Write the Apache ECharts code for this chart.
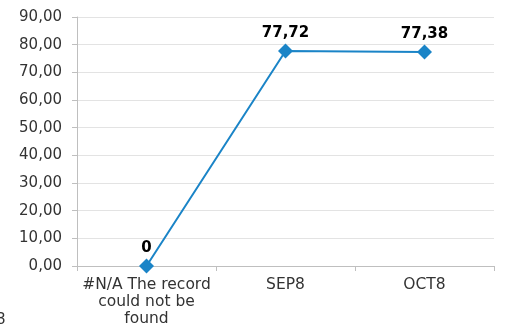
<!DOCTYPE html>
<html>
<head>
<meta charset="utf-8">
<script src="https://cdn.jsdelivr.net/npm/echarts@6/dist/echarts.min.js"></script>
<style>
  html, body { margin: 0; padding: 0; background: #fff; }
  #chart { width: 506px; height: 331px; }
</style>
</head>
<body>
<div id="chart"></div>
<script>
// Monthly values per record
var categories = ['#N/A The record\ncould not be\nfound', 'SEP8', 'OCT8'];
var values = [0, 77.72, 77.38];
var yTicks = { min: 0, max: 90, interval: 10 };

var FONT = 'DejaVu Sans';

function fmt(v) {
  return v.toFixed(2).replace('.', ',');
}

var chart = echarts.init(document.getElementById('chart'));
chart.setOption({
  animation: false,
  backgroundColor: '#ffffff',
  textStyle: { fontFamily: FONT },
  grid: { left: 77, right: 12, top: 17, bottom: 65, containLabel: false },
  xAxis: {
    type: 'category',
    data: categories,
    boundaryGap: true,
    axisLine: { lineStyle: { color: '#bfbfbf', width: 1 } },
    axisTick: { show: true, alignWithLabel: false, length: 5, lineStyle: { color: '#bfbfbf' } },
    axisLabel: { color: '#333333', fontFamily: FONT, fontSize: 15.5, lineHeight: 17, margin: 10, interval: 0 }
  },
  yAxis: {
    type: 'value',
    min: yTicks.min,
    max: yTicks.max,
    interval: yTicks.interval,
    axisLine: { show: true, lineStyle: { color: '#bfbfbf', width: 1 } },
    axisTick: { show: true, length: 5, lineStyle: { color: '#bfbfbf' } },
    splitLine: { lineStyle: { color: '#e3e3e3', width: 1 } },
    axisLabel: { color: '#333333', fontFamily: FONT, fontSize: 15, margin: 15, formatter: fmt }
  },
  series: [{
    type: 'line',
    data: values,
    symbol: 'diamond',
    symbolSize: 15,
    itemStyle: { color: '#1a84c7' },
    lineStyle: { color: '#1a84c7', width: 2 },
    label: {
      show: true,
      position: 'top',
      distance: 3,
      color: '#000000',
      fontFamily: FONT,
      fontWeight: 'bold',
      fontSize: 15,
      formatter: function (p) { return p.value === 0 ? '0' : fmt(p.value); }
    }
  }],
  graphic: [{
    type: 'text',
    left: -4,
    top: 313,
    style: { text: '8', fill: '#333333', fontSize: 15, fontFamily: FONT }
  }]
});
</script>
</body>
</html>
